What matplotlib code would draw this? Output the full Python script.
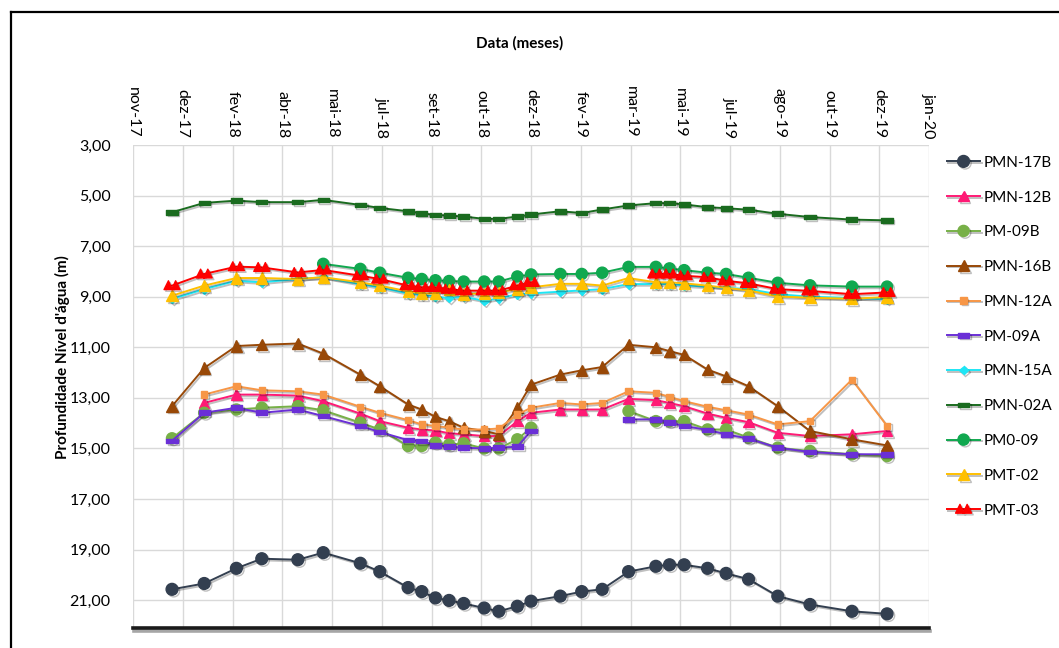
import matplotlib
matplotlib.use("Agg")
import matplotlib.pyplot as plt
import matplotlib.patheffects as pe
from matplotlib.path import Path
from matplotlib.lines import Line2D
import numpy as np
import pandas as pd

plt.rcParams["font.family"] = ["Lato", "DejaVu Sans"]

# datas das campanhas de medição
datas = ["2017-12-11", "2018-01-13", "2018-02-15", "2018-03-13", "2018-04-19",
         "2018-05-15", "2018-06-22", "2018-07-12", "2018-08-10", "2018-08-24",
         "2018-09-07", "2018-09-21", "2018-10-06", "2018-10-27", "2018-11-11",
         "2018-11-30", "2018-12-14", "2019-01-13", "2019-02-04", "2019-02-25",
         "2019-03-24", "2019-04-21", "2019-05-05", "2019-05-20", "2019-06-13",
         "2019-07-02", "2019-07-25", "2019-08-24", "2019-09-26", "2019-11-08",
         "2019-12-14"]

# profundidade do nível d'água (m) por poço; None = sem leitura
pmn_17b = [20.57, 20.34, 19.74, 19.36, 19.40, 19.12, 19.54, 19.87, 20.50, 20.66,
           20.91, 21.01, 21.13, 21.31, 21.44, 21.24, 21.04, 20.84, 20.66, 20.57,
           19.87, 19.66, 19.60, 19.60, 19.74, 19.94, 20.17, 20.84, 21.17, 21.44, 21.54]
pmn_12b = [None, 13.20, 12.87, 12.87, 12.91, 13.13, 13.62, 13.92, 14.18, 14.25,
           14.29, 14.40, 14.44, 14.51, 14.51, 13.92, 13.59, 13.46, 13.46, 13.46,
           13.04, 13.09, 13.20, 13.33, 13.62, 13.79, 13.96, 14.38, 14.51, 14.44, 14.31]
pm_09b = [14.60, 13.59, 13.46, 13.39, 13.33, 13.49, 13.98, 14.25, 14.90, 14.90,
          14.77, 14.85, 14.80, 15.00, 15.00, 14.64, 14.18, None, None, None,
          13.52, 13.92, 13.92, 13.92, 14.25, 14.25, 14.57, 14.97, 15.10, 15.23, 15.30]
pmn_16b = [13.33, 11.82, 10.95, 10.90, 10.85, 11.25, 12.08, 12.54, 13.26, 13.46,
           13.75, 13.92, 14.18, 14.31, 14.44, 13.39, 12.48, 12.08, 11.91, 11.78,
           10.90, 11.00, 11.15, 11.30, 11.88, 12.15, 12.54, 13.33, 14.31, 14.64, 14.88]
pmn_12a = [None, 12.87, 12.54, 12.70, 12.74, 12.87, 13.35, 13.59, 13.88, 14.05,
           14.11, 14.18, 14.25, 14.25, 14.21, 13.66, 13.39, 13.20, 13.26, 13.20,
           12.74, 12.80, 12.96, 13.13, 13.35, 13.49, 13.66, 14.05, 13.92, 12.28, 14.11]
pm_09a = [14.70, 13.59, 13.39, 13.59, 13.46, 13.72, 14.11, 14.35, 14.67, 14.70,
          14.88, 14.93, 14.97, 15.00, 14.97, 14.93, 14.31, None, None, None,
          13.85, 13.85, 13.98, 14.11, 14.27, 14.44, 14.61, 14.97, 15.14, 15.23, 15.23]
pmn_15a = [9.09, 8.70, 8.37, 8.43, 8.30, 8.23, 8.50, 8.63, 8.87, 8.92,
           9.00, 9.05, 9.00, 9.16, 9.07, 8.90, 8.87, 8.80, 8.75, 8.70,
           8.50, 8.50, 8.50, 8.55, 8.60, 8.65, 8.70, 8.90, 9.00, 9.05, 9.10]
pmn_02a = [5.66, 5.29, 5.20, 5.26, 5.26, 5.17, 5.37, 5.49, 5.62, 5.70,
           5.77, 5.79, 5.83, 5.92, 5.92, 5.83, 5.75, 5.62, 5.69, 5.55,
           5.39, 5.30, 5.30, 5.35, 5.46, 5.50, 5.56, 5.72, 5.85, 5.95, 5.98]
pm0_09 = [None, None, None, None, None, 7.70, 7.90, 8.05, 8.25, 8.30,
          8.35, 8.38, 8.40, 8.40, 8.40, 8.20, 8.12, 8.10, 8.10, 8.05,
          7.82, 7.82, 7.88, 7.95, 8.05, 8.10, 8.25, 8.45, 8.55, 8.60, 8.60]
pmt_02 = [8.96, 8.56, 8.26, 8.26, 8.30, 8.23, 8.43, 8.56, 8.79, 8.87,
          8.87, 8.70, 8.89, 8.87, 8.83, 8.70, 8.63, 8.49, 8.49, 8.56,
          8.26, 8.43, 8.43, 8.47, 8.56, 8.65, 8.75, 8.99, 9.04, 9.08, 9.01]
pmt_03 = [8.56, 8.10, 7.81, 7.84, 8.04, 7.94, 8.17, 8.30, 8.56, 8.63,
          8.63, 8.70, 8.76, 8.76, 8.76, 8.56, 8.43, None, None, None,
          None, 8.10, 8.10, 8.17, 8.23, 8.37, 8.47, 8.70, 8.77, 8.90, 8.83]

# eixo de datas: início e rótulos a cada 51 dias
inicio_eixo = "2017-11-01"
passo_dias = 51
rotulos_x = ["nov-17", "dez-17", "fev-18", "abr-18", "mai-18", "jul-18", "set-18",
             "out-18", "dez-18", "fev-19", "mar-19", "mai-19", "jul-19", "ago-19",
             "out-19", "dez-19", "jan-20"]

# marcadores personalizados
retangulo = Path([(-1, -0.42), (1, -0.42), (1, 0.42), (-1, 0.42), (-1, -0.42)],
                 [Path.MOVETO, Path.LINETO, Path.LINETO, Path.LINETO, Path.CLOSEPOLY])
duplo_tri = Path([(-1, -0.5), (0.05, -0.5), (-0.45, 0.6), (-1, -0.5),
                  (-0.05, -0.5), (1, -0.5), (0.45, 0.6), (-0.05, -0.5)],
                 [Path.MOVETO, Path.LINETO, Path.LINETO, Path.CLOSEPOLY,
                  Path.MOVETO, Path.LINETO, Path.LINETO, Path.CLOSEPOLY])

series = [
    ("PMN-17B", pmn_17b, "#333f50", "o", 8.5),
    ("PMN-12B", pmn_12b, "#ff1a75", "^", 7.5),
    ("PM-09B", pm_09b, "#77b047", "o", 8),
    ("PMN-16B", pmn_16b, "#984807", "^", 8),
    ("PMN-12A", pmn_12a, "#f79646", "s", 4.5),
    ("PM-09A", pm_09a, "#6a2fd6", retangulo, 8),
    ("PMN-15A", pmn_15a, "#1ee6f5", "D", 4.5),
    ("PMN-02A", pmn_02a, "#1a6b1f", retangulo, 8),
    ("PM0-09", pm0_09, "#10a84f", "o", 8),
    ("PMT-02", pmt_02, "#ffc000", "^", 8),
    ("PMT-03", pmt_03, "#ff0000", duplo_tri, 11.5),
]

t = pd.to_datetime(datas)

fig = plt.figure(figsize=(10.59, 6.48), dpi=100)
ax = fig.add_axes([133 / 1059, 1 - 628 / 648, (929 - 133) / 1059, (628 - 145) / 648])

sombra = [pe.SimpleLineShadow(offset=(1.2, -1.2), alpha=0.25, shadow_color="black"), pe.Normal()]

# leituras ausentes ficam como lacunas na linha
for nome, valores, cor, marc, tam in series:
    v = np.array([np.nan if x is None else x for x in valores])
    ax.plot(t, v, color=cor, lw=1.4, marker=marc, ms=tam,
            mfc=cor, mec=cor, label=nome, path_effects=sombra, zorder=3)

# eixo x
x0 = pd.Timestamp(inicio_eixo)
ticks = [x0 + pd.Timedelta(days=passo_dias * k) for k in range(len(rotulos_x))]
ax.set_xlim(ticks[0], ticks[-1])
ax.set_xticks(ticks)
ax.set_xticklabels(rotulos_x, rotation=-90, fontsize=11.5)
ax.xaxis.tick_top()
ax.tick_params(axis="x", length=0, pad=5)

# eixo y invertido
ax.set_ylim(22.1, 3)
ax.set_yticks(np.arange(3, 22, 2))
ax.set_yticklabels([f"{y:.2f}".replace(".", ",") for y in np.arange(3, 22, 2)], fontsize=11.5)
ax.tick_params(axis="y", length=0, pad=16)

ax.grid(True, color="#d9d9d9", lw=1)
ax.set_axisbelow(True)
for s in ["top", "left", "right"]:
    ax.spines[s].set_visible(False)
ax.spines["bottom"].set_linewidth(2.6)
ax.spines["bottom"].set_color("#1a1a1a")
ax.spines["bottom"].set_path_effects([pe.SimpleLineShadow(offset=(1, -2.5), alpha=0.35), pe.Normal()])

fig.text(520 / 1059, 1 - 43 / 648, "Data (meses)", ha="center", va="center",
         fontsize=11, fontweight="bold")
fig.text(62 / 1059, 1 - 357 / 648, "Profundidade Nível d'água (m)", ha="center",
         va="center", rotation=90, fontsize=11, fontweight="bold")

leg = ax.legend(loc="upper left", bbox_to_anchor=(933 / 1059, 1 - 142 / 648),
                bbox_transform=fig.transFigure, frameon=False, fontsize=11,
                handlelength=2.2, handletextpad=0.2, labelspacing=1.36)

# moldura do gráfico
fig.add_artist(Line2D([11 / 1059, 1], [1 - 12 / 648] * 2, transform=fig.transFigure,
                      color="black", lw=1.6))
fig.add_artist(Line2D([11 / 1059] * 2, [0, 1 - 12 / 648], transform=fig.transFigure,
                      color="black", lw=1.6))

fig.savefig("out.png", dpi=100, facecolor="white")
